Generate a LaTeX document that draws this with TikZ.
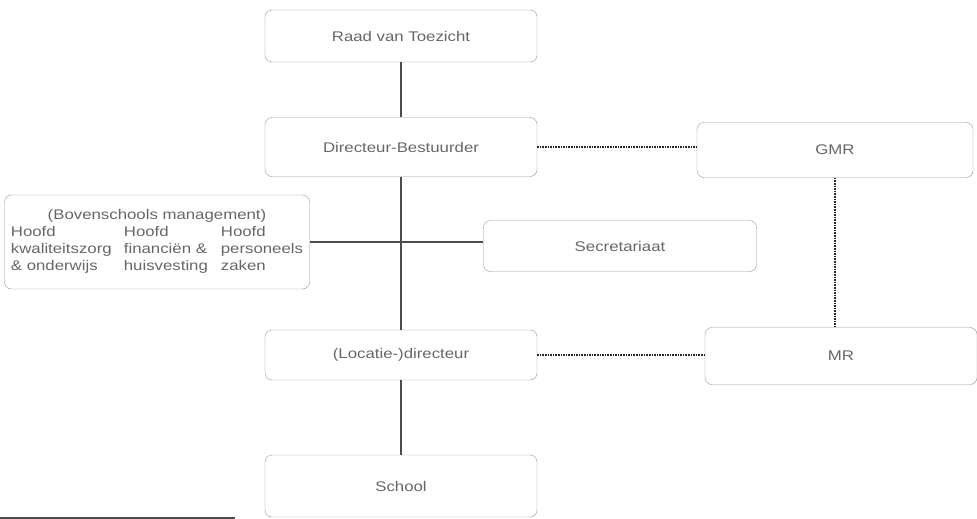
\documentclass[tikz,border=0pt]{standalone}
\usepackage{fontspec}
\newfontfamily\orgfont{Liberation Sans}[FakeStretch=1.2]
\usepackage{tikz}

\begin{document}
\begin{tikzpicture}[x=1pt,y=-1pt,
  orgbox/.style={draw=gray!85,rounded corners=7pt,minimum width=272,minimum height=52,
    text=black!60,font=\orgfont\fontsize{14}{17}\selectfont,inner sep=2pt},
  link/.style={draw=black!70,line width=1.2pt},
  dotlink/.style={draw=black!85,line width=1.6pt,densely dotted}]
  \useasboundingbox (0,0) rectangle (977,519);

  \node [orgbox] (raad) at (401,36) {Raad van Toezicht};
  \node [orgbox,minimum height=59] (dirbest) at (401,147) {Directeur-Bestuurder};
  \node [orgbox,minimum width=276,minimum height=55] (gmr) at (835,150) {GMR};
  \node [orgbox,minimum width=305,minimum height=94] (bsm) at (157,242)
    {\begin{tabular}{@{}p{113pt}@{}p{97pt}@{}l@{}}
       \multicolumn{3}{c}{(Bovenschools management)}\\
       Hoofd & Hoofd & Hoofd\\
       kwaliteitszorg & financi\"en \& & personeels\\
       \& onderwijs & huisvesting & zaken
     \end{tabular}};
  \node [orgbox,minimum width=273,minimum height=51] (secr) at (620,246) {Secretariaat};
  \node [orgbox,minimum height=50] (loc) at (401,355) {(Locatie-)directeur};
  \node [orgbox,minimum height=57] (mr) at (841,356) {MR};
  \node [orgbox,minimum height=62] (school) at (401,486) {School};

  \draw [link] (raad) -- (dirbest);
  \draw [link] (dirbest) -- (loc);
  \draw [link] (bsm.east) -- (bsm.east -| secr.west);
  \draw [link] (loc) -- (school);

  \draw [dotlink] (dirbest.east) -- (dirbest.east -| gmr.west);
  \draw [dotlink] (gmr.south) -- (gmr.south |- mr.north);
  \draw [dotlink] (loc.east) -- (loc.east -| mr.west);

  \draw [link] (0,518) -- (235,518);
\end{tikzpicture}
\end{document}
